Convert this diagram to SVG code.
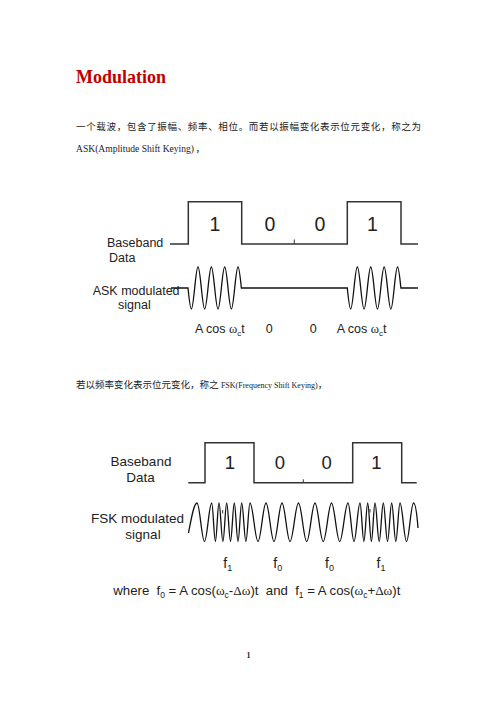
<svg xmlns="http://www.w3.org/2000/svg" width="504" height="713" viewBox="0 0 504 713">
<style>
.title{font-family:"Liberation Serif",Cambria,serif;font-weight:bold;font-size:18px;fill:#c00000}
.cn{font-family:"Liberation Serif","Noto Sans CJK SC",serif;font-size:9.5px;fill:#222}
.lat{font-family:"Liberation Serif",Cambria,serif;fill:#222}
.lbl{font-family:"Liberation Sans",Arial,sans-serif;fill:#222}
.sym{font-family:"Liberation Serif",serif}
.sq{fill:none;stroke:#333;stroke-width:1.5}
.wave{fill:none;stroke:#111;stroke-width:1.3}
.tick{fill:none;stroke:#333;stroke-width:1}
</style>
<rect width="504" height="713" fill="#fff"/>
<g id="header">
<text class="title" x="76" y="83">Modulation</text>
<text class="cn" x="76" y="130" textLength="345" lengthAdjust="spacing">一个载波，包含了振幅、频率、相位。而若以振幅变化表示位元变化，称之为</text>
<text class="lat" font-size="9.8" x="76" y="152" textLength="118" lengthAdjust="spacingAndGlyphs">ASK(Amplitude Shift Keying)</text>
<text class="cn" x="195.5" y="152">，</text>
<text class="cn" x="76" y="388">若以频率变化表示位元变化，称之 <tspan class="lat" font-size="8">FSK(Frequency Shift Keying)</tspan>，</text>
</g>
<g id="ask">
<g id="ask-baseband">
<path class="sq" d="M170,244 H188.3 V201.7 H241.7 V244 H347.3 V201.7 H401 V244 H418"/>
<path class="tick" d="M294.3,244 V239.5"/>
<text class="lbl" font-size="19.5" text-anchor="middle" x="215" y="230.5">1</text>
<text class="lbl" font-size="19.5" text-anchor="middle" x="270" y="230.5">0</text>
<text class="lbl" font-size="19.5" text-anchor="middle" x="320" y="230.5">0</text>
<text class="lbl" font-size="19.5" text-anchor="middle" x="372.5" y="230.5">1</text>
<text class="lbl" font-size="12.5" x="107" y="247">Baseband</text>
<text class="lbl" font-size="12.5" x="109" y="262">Data</text>
</g>
<g id="ask-signal">
<path class="wave" d="M171,288 H188 C189.09,298.75 190.13,309 191.34,309 C193.77,309 195.58,267 198.01,267 C200.44,267 202.25,309 204.68,309 C207.11,309 208.92,267 211.35,267 C213.78,267 215.59,309 218.02,309 C220.45,309 222.26,267 224.69,267 C227.12,267 228.93,309 231.36,309 C233.79,309 235.6,267 238.03,267 C239.24,267 240.28,277.25 241.37,288 L347.3,288 C348.39,298.75 349.44,309 350.65,309 C353.09,309 354.91,267 357.35,267 C359.79,267 361.61,309 364.05,309 C366.49,309 368.31,267 370.75,267 C373.19,267 375.01,309 377.45,309 C379.89,309 381.71,267 384.15,267 C386.59,267 388.41,309 390.85,309 C393.29,309 395.11,267 397.55,267 C398.76,267 399.81,277.25 400.9,288 L418,288"/>
<text class="lbl" font-size="12.5" x="92.7" y="294.5">ASK modulated</text>
<text class="lbl" font-size="12.5" x="118" y="308.5">signal</text>
<text class="lbl" font-size="12.5" x="195" y="333">A cos <tspan class="sym">ω</tspan><tspan font-size="8" dy="3">c</tspan><tspan dy="-3">t</tspan></text>
<text class="lbl" font-size="12.5" text-anchor="middle" x="269.3" y="333">0</text>
<text class="lbl" font-size="12.5" text-anchor="middle" x="313.3" y="333">0</text>
<text class="lbl" font-size="12.5" x="336.7" y="333">A cos <tspan class="sym">ω</tspan><tspan font-size="8" dy="3">c</tspan><tspan dy="-3">t</tspan></text>
</g>
</g>
<g id="fsk">
<g id="fsk-baseband">
<path class="sq" d="M188.3,482.7 H205 V442.7 H254 V482.7 H352.7 V442.7 H401.7 V482.7 H416.7"/>
<path class="tick" d="M303.3,482.7 V479.3"/>
<text class="lbl" font-size="18.5" text-anchor="middle" x="230" y="469">1</text>
<text class="lbl" font-size="18.5" text-anchor="middle" x="280" y="469">0</text>
<text class="lbl" font-size="18.5" text-anchor="middle" x="326.7" y="469">0</text>
<text class="lbl" font-size="18.5" text-anchor="middle" x="376.5" y="469">1</text>
<text class="lbl" font-size="13.5" text-anchor="middle" x="141" y="466">Baseband</text>
<text class="lbl" font-size="13.5" text-anchor="middle" x="140.5" y="481.7">Data</text>
</g>
<g id="fsk-signal">
<path class="wave" d="M188.5,533 C191,520 193.9,503 197,503 C199.73,503 201.77,541.5 204.5,541.5 C207.12,541.5 209.08,503 211.7,503 C213.05,503 214.05,541.5 215.4,541.5 C216.71,541.5 217.69,503 219,503 C220.42,503 221.48,541.5 222.9,541.5 C224.28,541.5 225.32,503 226.7,503 C228.08,503 229.12,541.5 230.5,541.5 C231.88,541.5 232.92,503 234.3,503 C235.65,503 236.65,541.5 238,541.5 C239.35,541.5 240.35,503 241.7,503 C243.23,503 244.37,541.5 245.9,541.5 C247.39,541.5 248.51,503 250,503 C252.91,503 255.09,541.5 258,541.5 C260.91,541.5 263.09,503 266,503 C268.91,503 271.09,541.5 274,541.5 C276.91,541.5 279.09,503 282,503 C284.91,503 287.09,541.5 290,541.5 C293.09,541.5 295.41,503 298.5,503 C301.48,503 303.72,541.5 306.7,541.5 C309.72,541.5 311.98,503 315,503 C317.98,503 320.22,541.5 323.2,541.5 C326.22,541.5 328.48,503 331.5,503 C334.48,503 336.72,541.5 339.7,541.5 C342.72,541.5 344.98,503 348,503 C350.18,503 351.82,541.5 354,541.5 C356.18,541.5 357.82,503 360,503 C361.42,503 362.48,541.5 363.9,541.5 C365.28,541.5 366.32,503 367.7,503 C369.05,503 370.05,541.5 371.4,541.5 C372.71,541.5 373.69,503 375,503 C376.53,503 377.67,541.5 379.2,541.5 C380.69,541.5 381.81,503 383.3,503 C384.83,503 385.97,541.5 387.5,541.5 C389.03,541.5 390.17,503 391.7,503 C393.19,503 394.31,541.5 395.8,541.5 C397.33,541.5 398.47,503 400,503 C402.37,503 404.13,541.5 406.5,541.5 C409.05,541.5 410.95,503 413.5,503 C415.5,503 417,515 418,528"/>
<path class="tick" d="M222.7,510 V513.5 M370,509 V512.5"/>
<text class="lbl" font-size="13.5" text-anchor="end" x="184" y="523.3">FSK modulated</text>
<text class="lbl" font-size="13.5" text-anchor="middle" x="143" y="539">signal</text>
<text class="lbl" font-size="14" x="223.3" y="568">f<tspan font-size="9" dy="3">1</tspan></text>
<text class="lbl" font-size="14" x="273.3" y="568">f<tspan font-size="9" dy="3">0</tspan></text>
<text class="lbl" font-size="14" x="325" y="568">f<tspan font-size="9" dy="3">0</tspan></text>
<text class="lbl" font-size="14" x="376.5" y="568">f<tspan font-size="9" dy="3">1</tspan></text>
<text class="lbl" font-size="13.2" x="113.3" y="595" xml:space="preserve">where  f<tspan font-size="8.5" dy="3">0</tspan><tspan dy="-3"> = A cos(</tspan><tspan class="sym">ω</tspan><tspan font-size="8.5" dy="3">c</tspan><tspan dy="-3">-</tspan><tspan class="sym">Δω</tspan>)t  and  f<tspan font-size="8.5" dy="3">1</tspan><tspan dy="-3"> = A cos(</tspan><tspan class="sym">ω</tspan><tspan font-size="8.5" dy="3">c</tspan><tspan dy="-3">+</tspan><tspan class="sym">Δω</tspan>)t</text>
</g>
</g>
<g id="footer">
<text class="lat" font-size="8" font-weight="bold" text-anchor="middle" x="248.5" y="658">1</text>
</g>
</svg>
